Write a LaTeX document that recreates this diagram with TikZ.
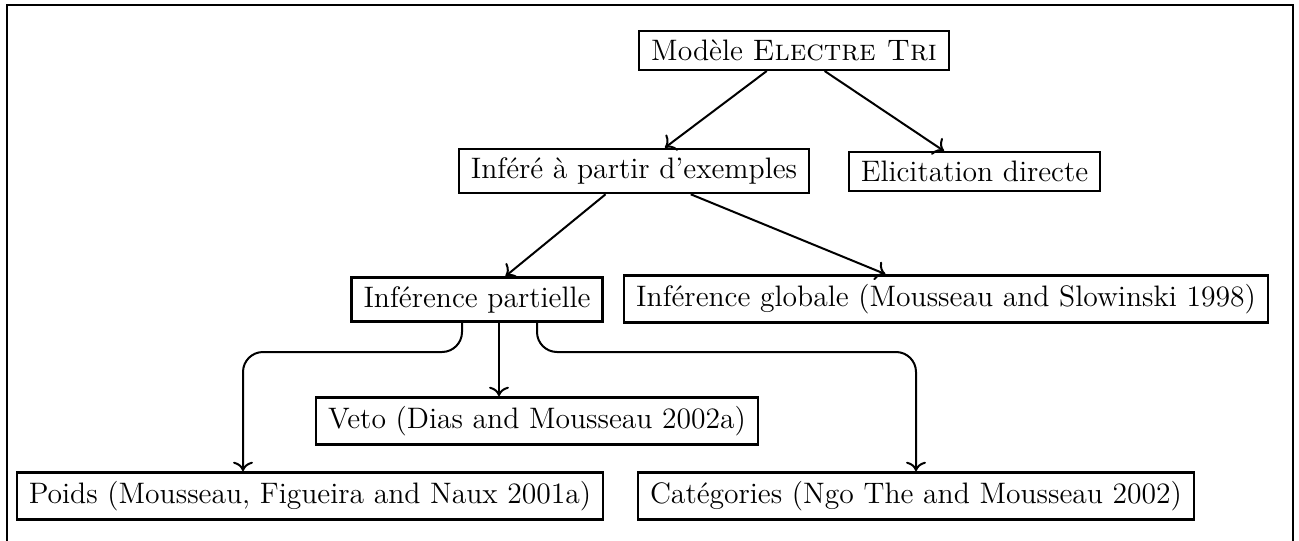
\documentclass[tikz,border=0pt]{standalone}
\usepackage{tikz}
\usetikzlibrary{arrows.meta}

\begin{document}
\begin{tikzpicture}[x=0.5pt,y=-0.5pt,>={To[scale=1.25]},font=\fontsize{14.8}{17}\selectfont,
    box/.style={draw,line width=1.2pt,inner xsep=6pt,inner ysep=4.4pt},
    link/.style={->,line width=1pt}]

    \useasboundingbox (0,0) rectangle (1299,540);
    \clip (0,0) rectangle (1299,540);

    % Outer frame (bottom edge runs off the page)
    \draw [line width=1.4pt] (7,5) rectangle (1293,580);

    % Top levels
    \node [box] (modele) at (794,50.5) {Modèle \textsc{Electre Tri}};
    \node [box] (infere) at (634,171) {Inféré à partir d'exemples};
    \node [box] (elicit) at (974.5,171.5) {Elicitation directe};

    % Inference
    \node [box] (partielle) at (477,299.5) {Inférence partielle};
    \node [box] (globale) at (946,299) {Inférence globale (Mousseau and Slowinski 1998)};

    % Partial inference leaves
    \node [box] (veto) at (537,421) {Veto (Dias and Mousseau 2002a)};
    \node [box] (poids) at (310,496) {Poids (Mousseau, Figueira and Naux 2001a)};
    \node [box] (categ) at (916,496) {Catégories (Ngo The and Mousseau 2002)};

    \draw [link] (modele) -- (infere);
    \draw [link] (modele) -- (elicit);
    \draw [link] (infere) -- (partielle);
    \draw [link] (infere) -- (globale);

    \draw [link] (499,0 |- partielle.south) -- (499,0 |- veto.north);
    \draw [link,rounded corners=10pt] (462,0 |- partielle.south) -- (462,352) -- (243,352) -- (243,0 |- poids.north);
    \draw [link,rounded corners=10pt] (537,0 |- partielle.south) -- (537,352) -- (916,352) -- (categ.north);

\end{tikzpicture}
\end{document}
